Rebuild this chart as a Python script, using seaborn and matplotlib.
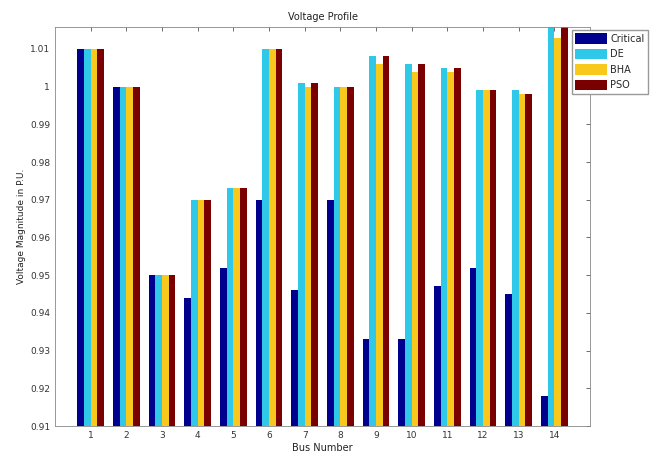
import matplotlib
matplotlib.use("Agg")
import matplotlib.pyplot as plt
import seaborn as sns
import pandas as pd
import numpy as np

buses = [str(i) for i in range(1, 15)]
critical = [1.010, 1.000, 0.950, 0.944, 0.952, 0.970, 0.946, 0.970, 0.933, 0.933, 0.947, 0.952, 0.945, 0.918]
de       = [1.010, 1.000, 0.950, 0.970, 0.973, 1.010, 1.001, 1.000, 1.008, 1.006, 1.005, 0.999, 0.999, 1.016]
bha      = [1.010, 1.000, 0.950, 0.970, 0.973, 1.010, 1.000, 1.000, 1.006, 1.004, 1.004, 0.999, 0.998, 1.013]
pso      = [1.010, 1.000, 0.950, 0.970, 0.973, 1.010, 1.001, 1.000, 1.008, 1.006, 1.005, 0.999, 0.998, 1.016]
series_names = ["Critical", "DE", "BHA", "PSO"]
colors = ["#00008F", "#30C8E8", "#F8C81C", "#7A0000"]
yticks = [0.91, 0.92, 0.93, 0.94, 0.95, 0.96, 0.97, 0.98, 0.99, 1.0, 1.01]
ytick_labels = ["0.91", "0.92", "0.93", "0.94", "0.95", "0.96", "0.97", "0.98", "0.99", "1", "1.01"]

rows = []
for name, vals in zip(series_names, [critical, de, bha, pso]):
    for b, v in zip(buses, vals):
        rows.append({"Bus": b, "Method": name, "Value": v})
df = pd.DataFrame(rows)

sns.set_style("white")
plt.rcParams['font.family'] = ['DejaVu Sans']

fig = plt.figure(figsize=(6.52, 4.57), dpi=100)
ax = fig.add_axes([55/652, 1 - 426/457, 535/652, (426 - 27)/457])

sns.barplot(data=df, x="Bus", y="Value", hue="Method", order=buses,
            hue_order=series_names, palette=colors, width=0.74,
            saturation=1, ax=ax, edgecolor="none", linewidth=0)

ax.set_xlim(-1, 14)
ax.set_ylim(0.91, 1.0158)
ax.set_yticks(yticks)
ax.set_yticklabels(ytick_labels)
ax.set_title("Voltage Profile", fontsize=7, color="#222222", pad=5)
ax.set_xlabel("Bus Number", fontsize=7, color="#222222", labelpad=2)
ax.set_ylabel("Voltage Magnitude in P.U.", fontsize=6.5, color="#222222", labelpad=3)
ax.tick_params(axis="both", labelsize=6.5, colors="#333333", direction="in",
               length=3, width=0.5, top=True, right=True)
for s in ax.spines.values():
    s.set_color("#888888")
    s.set_linewidth(0.6)

ax.legend(loc="upper left", bbox_to_anchor=(572/652, 1 - 30/457),
          bbox_transform=fig.transFigure, fontsize=7, frameon=True,
          fancybox=False, edgecolor="#999999", framealpha=1,
          handlelength=3.3, handleheight=1.3, labelspacing=0.5,
          borderpad=0.35, handletextpad=0.3, borderaxespad=0)

fig.savefig("out.png", dpi=100)
